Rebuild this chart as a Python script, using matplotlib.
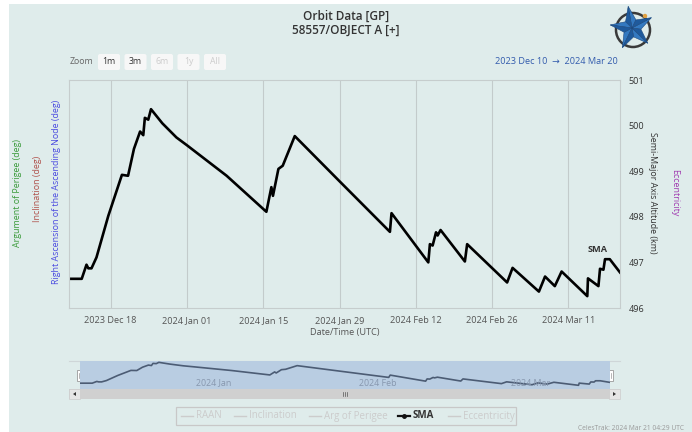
import numpy as np
import pandas as pd
import matplotlib
matplotlib.use('Agg')
import matplotlib.pyplot as plt
import matplotlib.dates as mdates
from matplotlib.patches import Rectangle, FancyBboxPatch, Polygon, Circle

plt.rcParams['font.family'] = ['Open Sans', 'DejaVu Sans']

# SMA altitude samples for 58557/OBJECT A (UTC epochs, km)
epochs = ["2023-12-10 09:00", "2023-12-12 17:00", "2023-12-13 14:00", "2023-12-13 22:00",
          "2023-12-14 12:00", "2023-12-15 10:00", "2023-12-17 14:00", "2023-12-20 02:00",
          "2023-12-21 05:00", "2023-12-22 07:00", "2023-12-23 10:00", "2023-12-24 00:00",
          "2023-12-24 07:00", "2023-12-24 22:00", "2023-12-25 10:00", "2023-12-27 12:00",
          "2023-12-30 02:00", "2024-01-01 00:00", "2024-01-08 07:00", "2024-01-15 14:00",
          "2024-01-16 12:00", "2024-01-16 19:00", "2024-01-17 19:00", "2024-01-18 14:00",
          "2024-01-20 19:00", "2024-01-29 02:00", "2024-02-07 06:00", "2024-02-07 13:00",
          "2024-02-14 07:00", "2024-02-14 14:00", "2024-02-15 02:00", "2024-02-15 17:00",
          "2024-02-16 00:00", "2024-02-16 13:00", "2024-02-21 00:00", "2024-02-21 10:00",
          "2024-02-28 18:00", "2024-02-29 18:00", "2024-03-05 14:00", "2024-03-06 17:00",
          "2024-03-08 12:00", "2024-03-09 18:00", "2024-03-14 11:00", "2024-03-14 14:00",
          "2024-03-16 12:00", "2024-03-16 19:00", "2024-03-17 10:00", "2024-03-17 17:00",
          "2024-03-18 14:00", "2024-03-20 11:00"]
sma_km = [496.64, 496.64, 496.95, 496.87, 496.87, 497.11, 498.02, 498.92,
          498.90, 499.49, 499.87, 499.79, 500.17, 500.13, 500.36, 500.05,
          499.74, 499.57, 498.90, 498.11, 498.65, 498.46, 499.05, 499.12,
          499.77, 498.77, 497.67, 498.08, 497.00, 497.40, 497.37, 497.66,
          497.59, 497.71, 497.02, 497.40, 496.56, 496.88, 496.36, 496.69,
          496.48, 496.80, 496.26, 496.65, 496.48, 496.86, 496.84, 497.07,
          497.07, 496.78]

tick_dates   = ["2023-12-18", "2024-01-01", "2024-01-15", "2024-01-29",
                "2024-02-12", "2024-02-26", "2024-03-11"]
sma_ticks    = [496, 497, 498, 499, 500, 501]
nav_months   = ["2024-01-01", "2024-02-01", "2024-03-01"]
zoom_buttons = ["1m", "3m", "6m", "1y", "All"]
zoom_active  = [True, True, False, False, False]
legend_items = ["RAAN", "Inclination", "Arg of Perigee", "SMA", "Eccentricity"]
legend_shown = [False, False, False, True, False]

t = pd.to_datetime(epochs)
W, H = 692, 432
BG = '#dfeceb'

fig = plt.figure(figsize=(W / 100, H / 100), dpi=100, facecolor=BG)

def box(x0, y0, x1, y1):
  # pixel box (top-left origin) -> figure rect
  return [x0 / W, 1 - y1 / H, (x1 - x0) / W, (y1 - y0) / H]

# pixel-space layer for the chrome around the chart
deco = fig.add_axes([0, 0, 1, 1], zorder=0)
deco.set_xlim(0, W)
deco.set_ylim(H, 0)
deco.axis('off')
deco.add_patch(Rectangle((0, 0), 9, H, color='white', lw=0))
deco.add_patch(Rectangle((0, 0), W, 4, color='white', lw=0))

# main SMA plot
ax = fig.add_axes(box(69, 80, 620, 308), zorder=2)
ax.set_facecolor('none')
ax.plot(t, sma_km, color='black', lw=1.9, solid_joinstyle='round')
ax.set_xlim(t[0], t[-1])
ax.set_ylim(496, 501)
ax.set_xticks(pd.to_datetime(tick_dates))
ax.xaxis.set_major_formatter(mdates.DateFormatter('%Y %b %d'))
ax.yaxis.tick_right()
ax.set_yticks(sma_ticks)
ax.tick_params(axis='x', length=0, pad=6, labelsize=6.6, labelcolor='#555555')
ax.tick_params(axis='y', length=0, pad=6, labelsize=6.6, labelcolor='#333333')
ax.grid(axis='x', color='#c3cbcb', lw=0.8)
for s in ax.spines.values():
  s.set_color('#c6cdcd')
  s.set_linewidth(0.8)
i_lbl = sma_km.index(max(sma_km[-5:]))
ax.annotate('SMA', xy=(mdates.date2num(t[i_lbl]), sma_km[i_lbl]), xytext=(-7, 10),
            textcoords='offset pixels', ha='center', va='center', fontsize=6.6,
            fontweight='bold', color='#333333')

# titles and axis titles
deco.text(346, 16, 'Orbit Data [GP]', ha='center', va='center', fontsize=8.5,
          fontweight='semibold', color='#333333')
deco.text(346, 30, '58557/OBJECT A [+]', ha='center', va='center', fontsize=8.5,
          fontweight='semibold', color='#333333')
deco.text(345, 333, 'Date/Time (UTC)', ha='center', va='center', fontsize=6.6, color='#555555')
deco.text(18, 193, 'Argument of Perigee (deg)', rotation=90, ha='center', va='center',
          fontsize=6.4, color='#3a9a3a')
deco.text(38, 189, 'Inclination (deg)', rotation=90, ha='center', va='center',
          fontsize=6.4, color='#b0524c')
deco.text(57, 192, 'Right Ascension of the Ascending Node (deg)', rotation=90, ha='center',
          va='center', fontsize=6.4, color='#4b4be0')
deco.text(653, 193, 'Semi-Major Axis Altitude (km)', rotation=270, ha='center', va='center',
          fontsize=6.4, color='#333333')
deco.text(675, 193, 'Eccentricity', rotation=270, ha='center', va='center',
          fontsize=6.4, color='#a03cb0')

# range selector
deco.text(70, 62, 'Zoom', ha='left', va='center', fontsize=6.3, color='#666666')
for k, (lbl, on) in enumerate(zip(zoom_buttons, zoom_active)):
  x0 = 98 + k * 26.5
  deco.add_patch(FancyBboxPatch((x0, 54), 22, 16, boxstyle='round,pad=0,rounding_size=2',
                                fc='#f7f7f7', ec='none'))
  deco.text(x0 + 11, 62, lbl, ha='center', va='center', fontsize=6.3,
            color='#333333' if on else '#cccccc')
deco.text(618, 62, '2023 Dec 10  \u2192  2024 Mar 20', ha='right', va='center',
          fontsize=6.6, color='#335cad')

# logo
cx, cy = 632, 28
deco.add_patch(Circle((cx + 1, cy + 2), 17, fc='none', ec='#3a3a3a', lw=1.8))
deco.add_patch(Circle((645, 16), 2.2, fc='#e0a040', ec='none'))
ang = np.deg2rad(-100 + 72 * np.arange(5))
outer = np.c_[cx + 22 * np.cos(ang), cy + 22 * np.sin(ang)]
inner = np.c_[cx + 9 * np.cos(ang + np.pi / 5), cy + 9 * np.sin(ang + np.pi / 5)]
for k in range(5):
  deco.add_patch(Polygon([(cx, cy), outer[k], inner[k]], fc='#3479c0', ec='#1d4a80', lw=0.4))
  deco.add_patch(Polygon([(cx, cy), outer[k], inner[k - 1]], fc='#1f5a9c', ec='#1d4a80', lw=0.4))

# navigator
deco.plot([69, 620], [361, 361], color='#cfd6d8', lw=0.8)
nav = fig.add_axes(box(80, 361, 610, 389), zorder=1)
nav.set_facecolor('#b9cde2')
nav.plot(t, sma_km, color='#4c5c74', lw=1.2)
nav.set_xlim(t[0], t[-1])
nav.set_ylim(495.6, 500.6)
nav.set_xticks([])
nav.set_yticks([])
for s in nav.spines.values():
  s.set_visible(False)
for m in pd.to_datetime(nav_months):
  nav.annotate(m.strftime('%Y %b'), xy=(mdates.date2num(m), 0.21),
               xycoords=nav.get_xaxis_transform(), xytext=(3, 0), textcoords='offset pixels',
               ha='left', va='center', fontsize=6.4, color='#8797ae')
for hx in (80, 610):
  deco.add_patch(Rectangle((hx - 3, 370), 6, 11, fc='white', ec='#999999', lw=0.6, zorder=3))
  deco.plot([hx - 0.8, hx - 0.8], [373, 378], color='#999999', lw=0.5, zorder=4)
  deco.plot([hx + 0.8, hx + 0.8], [373, 378], color='#999999', lw=0.5, zorder=4)

# scrollbar
deco.add_patch(Rectangle((69, 389), 551, 10, fc='#d0d0d0', ec='none'))
deco.add_patch(Rectangle((69, 389), 11, 10, fc='#e6e6e6', ec='#cccccc', lw=0.5))
deco.add_patch(Rectangle((609, 389), 11, 10, fc='#e6e6e6', ec='#cccccc', lw=0.5))
deco.add_patch(Polygon([(73, 394), (76, 392), (76, 396)], fc='#333333', ec='none'))
deco.add_patch(Polygon([(616, 394), (613, 392), (613, 396)], fc='#333333', ec='none'))
for gx in (343, 345, 347):
  deco.plot([gx, gx], [392, 396], color='#555555', lw=0.5)

# legend
deco.add_patch(Rectangle((176, 407), 340, 18, fc='none', ec='#c8c8c8', lw=0.9))
leg_x = [181, 234, 309, 398, 448]
for x0, lbl, on in zip(leg_x, legend_items, legend_shown):
  col = '#111111' if on else '#cccccc'
  deco.plot([x0, x0 + 12], [416, 416], color=col, lw=1.6 if on else 1.0)
  if on:
    deco.plot([x0 + 6], [416], 'o', color=col, ms=2.5)
  deco.text(x0 + 15, 416, lbl, ha='left', va='center', fontsize=7,
            color='#333333' if on else '#cccccc', fontweight='bold' if on else 'normal')

deco.text(684, 429, 'CelesTrak: 2024 Mar 21 04:29 UTC', ha='right', va='center',
          fontsize=4.8, color='#999999')

fig.savefig('out.png', dpi=100, facecolor=BG)
